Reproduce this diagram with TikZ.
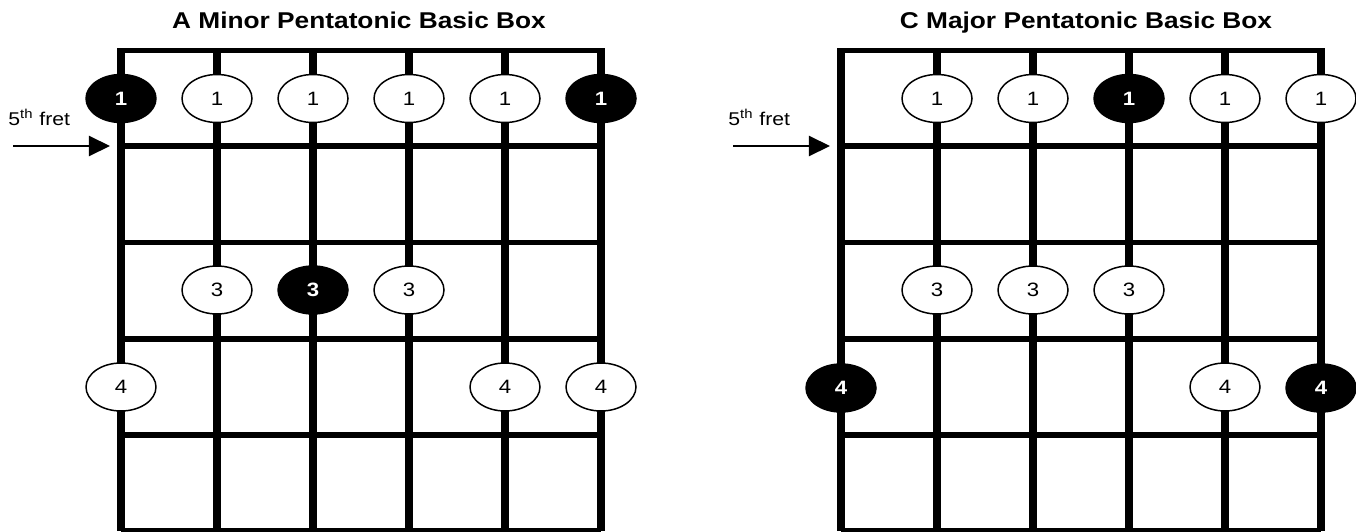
\documentclass[tikz,border=0pt]{standalone}
\usepackage{graphicx}
\usepackage{fontspec}
\setmainfont{Liberation Sans}
\usetikzlibrary{arrows.meta}
\usetikzlibrary{shapes.geometric}
\newcommand{\wide}[1]{\scalebox{1.15}[1]{#1}}
\tikzset{note/.style={draw, ellipse, line width=0.85pt, fill=white,
  minimum width=1.4cm, minimum height=0.96cm, inner sep=0pt,
  font=\fontsize{11}{13}\selectfont}}
\tikzset{root/.style={note, fill=black, text=white,
  font=\fontsize{11}{13}\selectfont\bfseries}}
\tikzset{fret/.style={line width=2.9pt}}
\tikzset{string/.style={line width=4.3pt}}

\begin{document}
\begin{tikzpicture}[x=0.02cm, y=-0.02cm]
      \useasboundingbox (0,0) rectangle (1356,531);

      \foreach \ox/\tx/\name in {0/359/A Minor, 720/1086/C Major} {
        \node [anchor=base, inner sep=0pt, font=\fontsize{13}{15}\selectfont\bfseries] (title\ox) at (\tx, 28.5) {\wide{\name\ Pentatonic Basic Box}};
        \draw [fret] (\ox+121, 50.5) -- (\ox+601, 50.5);
        \foreach \y in {146, 242.5, 339, 435, 531}
          \draw [fret] (\ox+121, \y) -- (\ox+601, \y);
        \foreach \s in {0,...,5}
          \draw [string] (\ox+121+96*\s, 48) -- (\ox+121+96*\s, 531);

        \node [anchor=base west, inner sep=0pt, font=\fontsize{10.5}{12}\selectfont] (fret\ox) at (\ox+8, 125) {\wide{5\textsuperscript{th} fret}};
        \coordinate (from\ox) at (\ox+13, 146);
        \coordinate (to\ox) at (\ox+110, 146);
        \draw [line width=0.85pt, -{Triangle[length=12pt, width=11.5pt]}] (from\ox) -- (to\ox);
      }

      \foreach \x/\y/\kind/\txt [count=\i] in {
          121/98.5/root/1, 217/98.5/note/1, 313/98.5/note/1, 409/98.5/note/1, 505/98.5/note/1, 601/98.5/root/1,
          217/290/note/3, 313/290/root/3, 409/290/note/3,
          121/387/note/4, 505/387/note/4, 601/387/note/4,
          937/98.5/note/1, 1033/98.5/note/1, 1129/98.5/root/1, 1225/98.5/note/1, 1321/98.5/note/1,
          937/290/note/3, 1033/290/note/3, 1129/290/note/3,
          841/388/root/4, 1225/387/note/4, 1321/388/root/4}
        \node [\kind] (n\i) at (\x, \y) {\wide{\txt}};
    \end{tikzpicture}
\end{document}
